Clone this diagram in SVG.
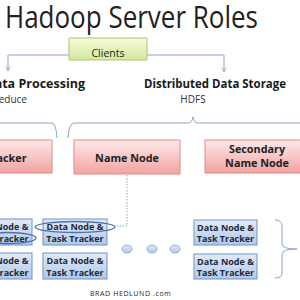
<svg xmlns="http://www.w3.org/2000/svg" width="300" height="300" viewBox="0 0 300 300">
<defs>
<linearGradient id="gGreen" x1="0" y1="0" x2="0" y2="1"><stop offset="0" stop-color="#f6fbdc"/><stop offset="1" stop-color="#d3e99c"/></linearGradient>
<linearGradient id="gRed" x1="0" y1="0" x2="0" y2="1"><stop offset="0" stop-color="#fdeaea"/><stop offset="1" stop-color="#f3a2a2"/></linearGradient>
<linearGradient id="gBlue" x1="0" y1="0" x2="0" y2="1"><stop offset="0" stop-color="#e2ebf6"/><stop offset="1" stop-color="#b0c8e8"/></linearGradient>
<marker id="arr" viewBox="0 0 10 10" refX="9" refY="5" markerWidth="6" markerHeight="6" orient="auto"><path d="M1,1 L9,5 L1,9" fill="none" stroke="#8aa4c8" stroke-width="1.2"/></marker>
<style>
text{font-family:"Open Sans","Liberation Sans",sans-serif;fill:#222}
.lbl{font-size:12.5px;font-weight:bold;fill:#1a1a1a}
.sub{font-size:10px;fill:#333}
.red rect{fill:url(#gRed);stroke:#e3898a;stroke-width:1}
.red text{font-size:10.8px;font-weight:bold;text-anchor:middle;fill:#222}
.dn rect{fill:url(#gBlue);stroke:#6f93c8;stroke-width:1}
.dn text{font-size:9px;font-weight:bold;text-anchor:middle;fill:#1e2a3a}
.conn{fill:none;stroke:#8aa4c8;stroke-width:1}
.dot{fill:url(#gBlue);stroke:#7a9cd0;stroke-width:0.8}
</style>
</defs>
<rect width="300" height="300" fill="#ffffff"/>
<text x="5" y="28" font-size="31" textLength="253" lengthAdjust="spacingAndGlyphs" fill="#1a1a1a">Hadoop Server Roles</text>

<g id="connectors">
<path class="conn" d="M69,55 H8 V71" marker-end="url(#arr)"/>
<path class="conn" d="M147,55 H224 V72" marker-end="url(#arr)"/>
<path class="conn" d="M0,123 H52 Q56,123 57,138"/>
<path class="conn" d="M68,138 Q69,123 74,123 H188 Q192,123 193,117 Q194,123 198,123 H300"/>
<path class="conn" d="M275,220 Q282,220 282,226 V244 Q282,249 297,249 Q282,249 282,254 V273 Q282,278 275,278"/>
<path d="M127,175 V226 H116" fill="none" stroke="#8aa4c8" stroke-width="1" stroke-dasharray="1.5,1.5"/>
</g>

<g id="clients">
<rect x="69" y="38" width="78" height="22" fill="url(#gGreen)" stroke="#a9c76a" stroke-width="1"/>
<text x="108" y="57" font-size="10.5" text-anchor="middle" fill="#222">Clients</text>
</g>

<g id="data-processing">
<text class="lbl" x="85" y="88" text-anchor="end">Data Processing</text>
<text class="sub" x="27" y="103" text-anchor="end">MapReduce</text>
</g>
<g id="data-storage">
<text class="lbl" x="144" y="88" textLength="142" lengthAdjust="spacingAndGlyphs">Distributed Data Storage</text>
<text class="sub" x="193" y="103" text-anchor="middle">HDFS</text>
</g>

<g id="job-tracker" class="red">
<rect x="-50" y="140" width="102" height="33"/>
<text x="-4" y="162">Job Tracker</text>
</g>
<g id="name-node" class="red">
<rect x="74" y="140" width="106" height="34"/>
<text x="127" y="162">Name Node</text>
</g>
<g id="secondary-name-node" class="red">
<rect x="205" y="140" width="110" height="33"/>
<text x="257" y="153">Secondary</text>
<text x="257" y="167">Name Node</text>
</g>

<g id="dn-l1" class="dn"><rect x="-32" y="219" width="64" height="26"/><text x="0" y="230">Data Node &amp;</text><text x="0" y="242">Task Tracker</text></g>
<g id="dn-l2" class="dn"><rect x="-32" y="253" width="64" height="26"/><text x="0" y="264">Data Node &amp;</text><text x="0" y="276">Task Tracker</text></g>
<g id="dn-m1" class="dn"><rect x="43" y="219" width="64" height="26"/><text x="75" y="230">Data Node &amp;</text><text x="75" y="242">Task Tracker</text></g>
<g id="dn-m2" class="dn"><rect x="43" y="253" width="64" height="26"/><text x="75" y="264">Data Node &amp;</text><text x="75" y="276">Task Tracker</text></g>
<g id="dn-r1" class="dn"><rect x="194" y="220" width="63" height="25"/><text x="225.5" y="230.5">Data Node &amp;</text><text x="225.5" y="242">Task Tracker</text></g>
<g id="dn-r2" class="dn"><rect x="194" y="254" width="63" height="25"/><text x="225.5" y="264.5">Data Node &amp;</text><text x="225.5" y="276">Task Tracker</text></g>

<g id="highlights">
<ellipse cx="75" cy="227" rx="40" ry="5.5" fill="none" stroke="#4a72b0" stroke-width="1.4"/>
<ellipse cx="8" cy="238" rx="28" ry="5.5" fill="none" stroke="#4a72b0" stroke-width="1.4"/>
</g>

<g id="dots">
<ellipse class="dot" cx="127" cy="249" rx="5" ry="4"/>
<ellipse class="dot" cx="152" cy="249" rx="5" ry="4"/>
<ellipse class="dot" cx="175" cy="249" rx="5" ry="4"/>
</g>

<text x="90" y="296" font-size="7" fill="#8a8a8a" letter-spacing="0.6">BRAD HEDLUND .com</text>
</svg>
